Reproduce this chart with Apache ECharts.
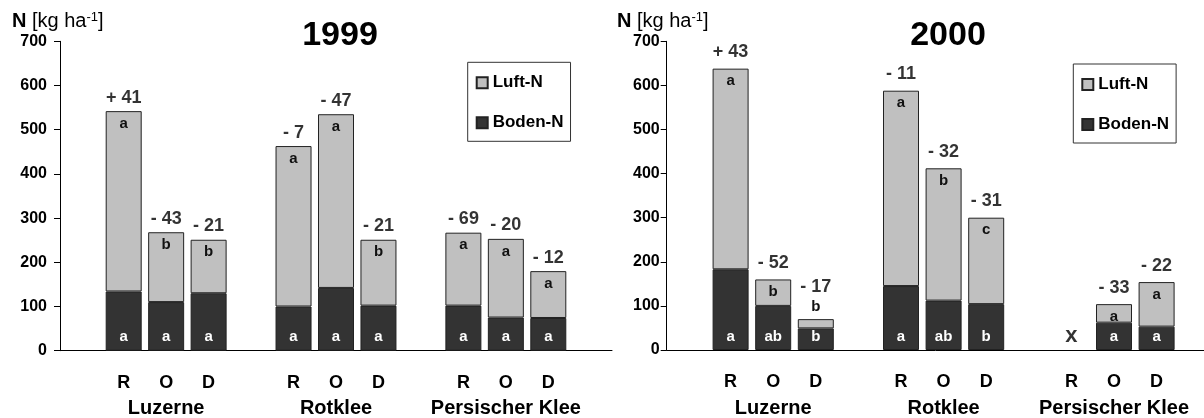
<!DOCTYPE html>
<html>
<head>
<meta charset="utf-8">
<script src="https://cdn.jsdelivr.net/npm/echarts@6/dist/echarts.min.js"></script>
<style>
  html, body { margin: 0; padding: 0; background: #fff; }
  #chart { width: 1204px; height: 418px; }
</style>
</head>
<body>
<div id="chart"></div>
<script>
// Crops and treatments on the category axis
const groups = ['Luzerne', 'Rotklee', 'Persischer Klee'];
const treatments = ['R', 'O', 'D'];
const years = ['1999', '2000'];

// N from soil (Boden-N) and from air (Luft-N), kg/ha, order: Luzerne R,O,D / Rotklee R,O,D / Persischer Klee R,O,D
const boden1999 = [134, 110, 130, 100, 142, 102, 102, 75, 74];
const luft1999  = [408, 158, 121, 363, 393, 149, 165, 178, 106];
const diff1999  = ['+ 41', '- 43', '- 21', '- 7', '- 47', '- 21', '- 69', '- 20', '- 12'];
const luftSig1999  = ['a', 'b', 'b', 'a', 'a', 'b', 'a', 'a', 'a'];
const bodenSig1999 = ['a', 'a', 'a', 'a', 'a', 'a', 'a', 'a', 'a'];

const boden2000 = [183, 100, 49, 145, 112, 104, null, 62, 53];
const luft2000  = [455, 60, 21, 443, 300, 196, null, 42, 101];
const diff2000  = ['+ 43', '- 52', '- 17', '- 11', '- 32', '- 31', null, '- 33', '- 22'];
const luftSig2000  = ['a', 'b', 'b', 'a', 'b', 'c', null, 'a', 'a'];
const bodenSig2000 = ['a', 'ab', 'b', 'a', 'ab', 'b', null, 'a', 'a'];

// Marker for a variant without data
const missingMark = 'x';

const FONT = '"Liberation Sans", Arial, Helvetica, sans-serif';
const LIGHT = '#c0c0c0';
const DARK = '#333333';
const EDGE = '#222222';

// 13 axis slots: an empty slot before, between and after the three crop groups
const N_SLOTS = 13;
const slotOf = (i) => 1 + Math.floor(i / 3) * 4 + (i % 3);

const categories = new Array(N_SLOTS).fill('');
groups.forEach((g, gi) => treatments.forEach((t, ti) => { categories[slotOf(gi * 3 + ti)] = t; }));

function spread(list, make) {
  const out = new Array(N_SLOTS).fill(null);
  list.forEach((v, i) => { out[slotOf(i)] = make(v, i); });
  return out;
}

const yearData = [
  { boden: boden1999, luft: luft1999, diff: diff1999, luftSig: luftSig1999, bodenSig: bodenSig1999, diffGap: 4 },
  { boden: boden2000, luft: luft2000, diff: diff2000, luftSig: luftSig2000, bodenSig: bodenSig2000, diffGap: 7 }
];

const grids = [
  { left: 60, top: 41.3, width: 552, height: 309.4, containLabel: false, outerBoundsMode: 'none' },
  { left: 666.7, top: 41.3, width: 553.8, height: 308.7, containLabel: false, outerBoundsMode: 'none' }
];

const xAxes = grids.map((_, gi) => ({
  type: 'category',
  gridIndex: gi,
  data: categories,
  axisTick: { show: false },
  axisLine: { lineStyle: { color: '#000', width: 1 } },
  axisLabel: {
    interval: 0,
    margin: 19,
    color: '#000',
    fontFamily: FONT,
    fontWeight: 'bold',
    fontSize: 18,
    lineHeight: 26,
    formatter: (val, idx) => {
      const pos = idx - 1;
      if (pos >= 0 && pos % 4 === 1) {
        return val + '\n{g|' + groups[(pos - 1) / 4] + '}';
      }
      return val;
    },
    rich: { g: { fontFamily: FONT, fontWeight: 'bold', fontSize: 20, lineHeight: 26, color: '#000' } }
  }
}));

const yAxes = grids.map((_, gi) => ({
  type: 'value',
  gridIndex: gi,
  min: 0,
  max: 700,
  interval: 100,
  splitLine: { show: false },
  axisLine: { show: true, lineStyle: { color: '#000', width: 1 } },
  axisTick: { show: true, length: 6, lineStyle: { color: '#000' } },
  axisLabel: {
    margin: gi === 0 ? 13 : 7,
    color: '#000',
    fontFamily: FONT,
    fontWeight: 'bold',
    fontSize: 16
  }
}));

const series = [];
yearData.forEach((yd, gi) => {
  const stack = 'N' + years[gi];
  series.push({
    name: 'Boden-N',
    type: 'bar',
    stack,
    xAxisIndex: gi,
    yAxisIndex: gi,
    barWidth: 36,
    itemStyle: { color: DARK, borderColor: EDGE, borderWidth: 1 },
    label: {
      show: true,
      position: 'insideBottom',
      distance: 6,
      color: '#fff',
      fontFamily: FONT,
      fontWeight: 'bold',
      fontSize: 15,
      formatter: (p) => (p.data && p.data.sig) || ''
    },
    data: spread(yd.boden, (v, i) => (v == null ? null : { value: v, sig: yd.bodenSig[i] }))
  });
  series.push({
    name: 'Luft-N',
    type: 'bar',
    stack,
    xAxisIndex: gi,
    yAxisIndex: gi,
    barWidth: 36,
    itemStyle: { color: LIGHT, borderColor: EDGE, borderWidth: 1 },
    label: {
      show: true,
      position: 'insideTop',
      distance: 5,
      color: '#111',
      fontFamily: FONT,
      fontWeight: 'bold',
      fontSize: 15,
      formatter: (p) => (p.data && p.data.sig) || ''
    },
    data: spread(yd.luft, (v, i) => {
      if (v == null) return null;
      const item = { value: v, sig: yd.luftSig[i] };
      // segments too thin for a letter carry it above the bar
      if (v < 30) item.label = { position: 'top', distance: 5 };
      return item;
    })
  });
  // difference labels above each stacked bar
  series.push({
    name: 'diff' + years[gi],
    type: 'scatter',
    xAxisIndex: gi,
    yAxisIndex: gi,
    symbol: 'rect',
    symbolSize: 1,
    silent: true,
    z: 5,
    itemStyle: { color: 'rgba(0,0,0,0)' },
    label: {
      show: true,
      position: 'top',
      distance: yd.diffGap,
      color: '#000',
      fontFamily: FONT,
      fontWeight: 'bold',
      fontSize: 18,
      formatter: (p) => (p.data && p.data.text) || ''
    },
    data: spread(yd.luft, (v, i) => {
      if (v == null) {
        return { value: 0, text: missingMark, label: { fontSize: 22, distance: 3 } };
      }
      const item = { value: yd.boden[i] + v, text: yd.diff[i] };
      if (v < 30) item.label = { distance: 23 };
      return item;
    })
  });
});

const legendBase = {
  orient: 'vertical',
  data: ['Luft-N', 'Boden-N'],
  itemWidth: 11,
  itemHeight: 11,
  itemGap: 23,
  padding: [12, 7, 10, 8],
  borderColor: '#333',
  borderWidth: 1,
  icon: 'rect',
  selectedMode: false,
  textStyle: { color: '#000', fontFamily: FONT, fontWeight: 'bold', fontSize: 17 }
};

const unitText = (x) => ({
  type: 'text',
  x: x,
  y: 21,
  style: {
    text: '{n|N} [kg ha{s|-1}]',
    fill: '#000',
    font: '20px ' + FONT,
    verticalAlign: 'middle',
    textVerticalAlign: 'middle',
    rich: {
      n: { fontFamily: FONT, fontWeight: 'bold', fontSize: 20 },
      s: { fontFamily: FONT, fontSize: 13, verticalAlign: 'top' }
    }
  }
});

const yearTitle = (text, x) => ({
  type: 'text',
  x: x,
  y: 36,
  style: {
    text: text,
    fill: '#000',
    font: 'bold 34px ' + FONT,
    align: 'center',
    textAlign: 'center',
    verticalAlign: 'middle',
    textVerticalAlign: 'middle'
  }
});

const chart = echarts.init(document.getElementById('chart'), null, { renderer: 'canvas' });
chart.setOption({
  animation: false,
  backgroundColor: '#fff',
  grid: grids,
  xAxis: xAxes,
  yAxis: yAxes,
  legend: [
    Object.assign({}, legendBase, { left: 467.7, top: 62.3 }),
    Object.assign({}, legendBase, { left: 1073.3, top: 64 })
  ],
  graphic: [
    unitText(12),
    unitText(617),
    yearTitle(years[0], 340),
    yearTitle(years[1], 948)
  ],
  series: series
});
</script>
</body>
</html>
